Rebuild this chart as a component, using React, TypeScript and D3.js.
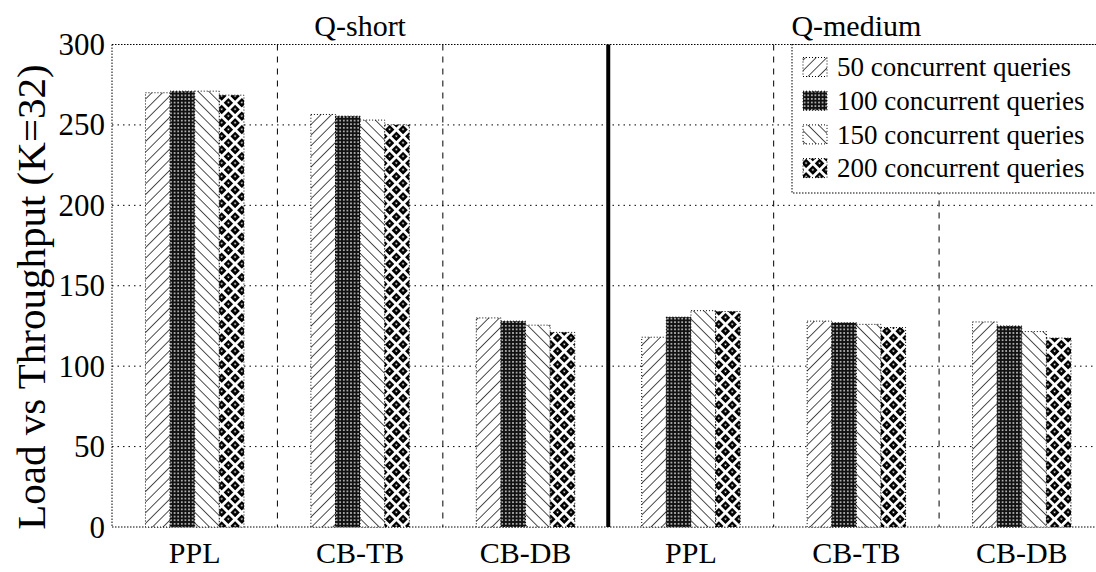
import React from "react";
import * as d3 from "d3";

const panels = ["Q-short", "Q-medium"];
const categories = ["PPL", "CB-TB", "CB-DB", "PPL", "CB-TB", "CB-DB"];
const seriesNames = [
  "50 concurrent queries",
  "100 concurrent queries",
  "150 concurrent queries",
  "200 concurrent queries",
];
const q50 = [270, 256.5, 130, 118, 128, 127.5];
const q100 = [271, 255.5, 128, 130.5, 127, 125];
const q150 = [271, 253, 125.5, 134.5, 126, 121.5];
const q200 = [268.5, 250, 121, 134, 124, 117.5];
const yTicks = [0, 50, 100, 150, 200, 250, 300];

const seriesValues = [q50, q100, q150, q200];
const patternIds = ["p50", "p100", "p150", "p200"];

const W = 1096;
const H = 572;
const left = 112;
const right = 1104.5;
const top = 44.5;
const bottom = 527;
const font = "'Liberation Serif', 'DejaVu Serif', serif";

export default function App() {
  const x = d3
    .scaleBand<number>()
    .domain(d3.range(categories.length))
    .range([left, right])
    .paddingInner(0)
    .paddingOuter(0);
  const xs = d3
    .scaleBand<number>()
    .domain(d3.range(seriesNames.length))
    .range([0, x.bandwidth()])
    .paddingInner(0)
    .paddingOuter(1.36);
  const y = d3.scaleLinear().domain([0, 300]).range([bottom, top]);

  const mid = x(3)!;

  return (
    <svg width={W} height={H} style={{ position: "absolute", left: 0, top: 0 }}>
      <defs>
        <pattern id="p50" width="7.5" height="7.5" patternUnits="userSpaceOnUse" patternTransform="rotate(45)">
          <rect width="7.5" height="7.5" fill="#fff" />
          <line x1="0" y1="0" x2="0" y2="7.5" stroke="#222" strokeWidth="1.6" />
        </pattern>
        <pattern id="p150" width="7.5" height="7.5" patternUnits="userSpaceOnUse" patternTransform="rotate(-45)">
          <rect width="7.5" height="7.5" fill="#fff" />
          <line x1="0" y1="0" x2="0" y2="7.5" stroke="#222" strokeWidth="1.6" />
        </pattern>
        <pattern id="p100" width="3.6" height="3.6" patternUnits="userSpaceOnUse">
          <rect width="3.6" height="3.6" fill="#111" />
          <circle cx="1.8" cy="1.8" r="0.9" fill="#ddd" />
        </pattern>
        <pattern id="p200" width="9.5" height="9.5" patternUnits="userSpaceOnUse" patternTransform="rotate(45)">
          <rect width="9.5" height="9.5" fill="#000" />
          <rect x="0" y="0" width="9.5" height="2.8" fill="#fff" />
          <rect x="0" y="0" width="2.8" height="9.5" fill="#fff" />
          <rect x="5.2" y="5.2" width="1.6" height="1.6" fill="#fff" />
        </pattern>
      </defs>

      {/* grid */}
      {yTicks.slice(1, -1).map((t) => (
        <line key={t} x1={left} x2={right} y1={y(t)} y2={y(t)} stroke="#000" strokeWidth={1} strokeDasharray="1.5,4" />
      ))}
      <line x1={left} x2={right} y1={y(300)} y2={y(300)} stroke="#000" strokeWidth={1} strokeDasharray="1.5,1.5" />
      <line x1={left} x2={right} y1={bottom} y2={bottom} stroke="#000" strokeWidth={1} strokeDasharray="1.5,1.5" />
      <line x1={left} x2={left} y1={top} y2={bottom} stroke="#000" strokeWidth={1} strokeDasharray="1.5,1.5" />

      {/* group separators */}
      {[1, 2, 4, 5].map((i) => (
        <line key={i} x1={x(i)!} x2={x(i)!} y1={top} y2={bottom} stroke="#000" strokeWidth={1} strokeDasharray="6,6" />
      ))}
      <line x1={mid} x2={mid} y1={top} y2={bottom} stroke="#000" strokeWidth={4} />

      {/* bars */}
      {categories.map((c, g) =>
        seriesValues.map((vals, s) => (
          <rect
            key={`${g}-${s}`}
            x={x(g)! + xs(s)!}
            y={y(vals[g])}
            width={xs.bandwidth()}
            height={bottom - y(vals[g])}
            fill={`url(#${patternIds[s]})`}
            stroke="#000"
            strokeWidth={1}
            strokeDasharray="1,2"
          />
        ))
      )}

      {/* y ticks */}
      {yTicks.map((t) => (
        <text key={t} x={105} y={y(t)} dy="0.34em" textAnchor="end" fontFamily={font} fontSize={31}>
          {t}
        </text>
      ))}

      {/* x labels */}
      {categories.map((c, g) => (
        <text key={g} x={x(g)! + x.bandwidth() / 2} y={563} textAnchor="middle" fontFamily={font} fontSize={30}>
          {c}
        </text>
      ))}

      {/* panel titles */}
      {panels.map((p, i) => (
        <text key={p} x={i === 0 ? (left + mid) / 2 : (mid + right) / 2} y={36} textAnchor="middle" fontFamily={font} fontSize={30}>
          {p}
        </text>
      ))}

      {/* y label */}
      <text transform={`translate(45,297) rotate(-90)`} textAnchor="middle" fontFamily={font} fontSize={41}>
        Load vs Throughput (K=32)
      </text>

      {/* legend */}
      <rect x={792} y={top} width={320} height={148.5} fill="#fff" stroke="#000" strokeWidth={1} strokeDasharray="1.5,1.5" />
      {seriesNames.map((n, i) => (
        <g key={n} transform={`translate(0,${67 + i * 33.7})`}>
          <rect x={803} y={-9.5} width={24} height={19} fill={`url(#${patternIds[i]})`} stroke="#000" strokeWidth={1} strokeDasharray="1,2" />
          <text x={837} y={0} dy="0.34em" fontFamily={font} fontSize={27}>
            {n}
          </text>
        </g>
      ))}
    </svg>
  );
}
